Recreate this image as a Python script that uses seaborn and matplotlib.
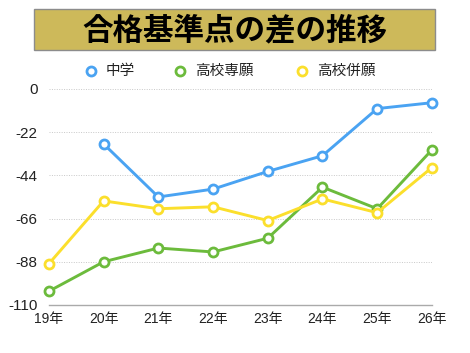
"""Trend of the passing-score gap (reproduction)"""

import numpy as np
import pandas as pd
import seaborn as sns
import matplotlib.pyplot as plt
from matplotlib.patches import Rectangle

years = ["19年", "20年", "21年", "22年", "23年", "24年", "25年", "26年"]
chugaku = [np.nan, -28, -55, -51, -42, -34, -10, -7]
senkan = [-103, -88, -81, -83, -76, -50, -61, -31]
heigan = [-89, -57, -61, -60, -67, -56, -63, -40]
series_names = ["中学", "高校専願", "高校併願"]
colors = ["#4aa3f2", "#6cbb3c", "#fbdf2c"]
yticks = [0, -22, -44, -66, -88, -110]

FONT = ["Liberation Sans", "Noto Sans CJK JP"]


def main():
    df = pd.DataFrame({
        "x": list(range(len(years))) * 3,
        "value": chugaku + senkan + heigan,
        "series": np.repeat(series_names, len(years)),
    })

    sns.set_style("white")
    plt.rcParams["font.family"] = FONT

    fig = plt.figure(figsize=(4.7, 3.53), dpi=100)
    ax = fig.add_axes([0.104, 0.136, 0.815, 0.612])

    sns.lineplot(
        data=df, x="x", y="value", hue="series", hue_order=series_names,
        palette=colors, marker="o", markersize=6.5, markeredgewidth=2,
        markerfacecolor="white", linewidth=2.1, ax=ax, legend=False,
        clip_on=False,
    )
    # white fill inside markers, colored ring
    for line, c in zip(ax.lines, colors):
        line.set_markeredgecolor(c)
        line.set_markerfacecolor("white")

    ax.set_xlim(0, len(years) - 1)
    ax.set_ylim(-110, 0)
    ax.set_yticks(yticks)
    ax.set_yticklabels([str(v) for v in yticks], fontsize=11, color="#222222")
    ax.set_xticks(range(len(years)))
    ax.set_xticklabels(years, fontsize=10, color="#222222")
    ax.tick_params(axis="y", length=0, pad=8)
    ax.tick_params(axis="x", length=0, pad=5)
    ax.set_xlabel("")
    ax.set_ylabel("")
    for v in yticks[:-1]:
        ax.axhline(v, color="#c8c8c8", linestyle=(0, (1, 1.5)), linewidth=0.7,
                   zorder=0)
    for s in ["top", "right", "left"]:
        ax.spines[s].set_visible(False)
    ax.spines["bottom"].set_color("#aaaaaa")
    ax.spines["bottom"].set_linewidth(1.0)

    # title banner
    fig.patches.append(Rectangle((34 / 470, 1 - 50 / 353), 401 / 470, 41 / 353,
                                 transform=fig.transFigure,
                                 facecolor="#cdb95a", edgecolor="#8c8c8c",
                                 linewidth=1.0))
    fig.text(0.5, 1 - 30 / 353, "合格基準点の差の推移", ha="center",
             va="center", fontsize=22, fontweight="bold", color="black",
             family=["Noto Sans CJK JP"])

    # legend row
    leg_x = [91, 180, 302]
    for name, c, lx in zip(series_names, colors, leg_x):
        fig.lines.append(plt.Line2D([lx / 470], [1 - 71 / 353],
                                    transform=fig.transFigure, marker="o",
                                    markersize=6.5, markeredgewidth=2,
                                    markeredgecolor=c, markerfacecolor="white",
                                    linestyle="none"))
        fig.text((lx + 15) / 470, 1 - 71 / 353, name, ha="left", va="center",
                 fontsize=10.5, color="#222222",
                 family=["Noto Sans CJK JP"])

    plt.savefig("out.png", dpi=100)


if __name__ == "__main__":
    main()
